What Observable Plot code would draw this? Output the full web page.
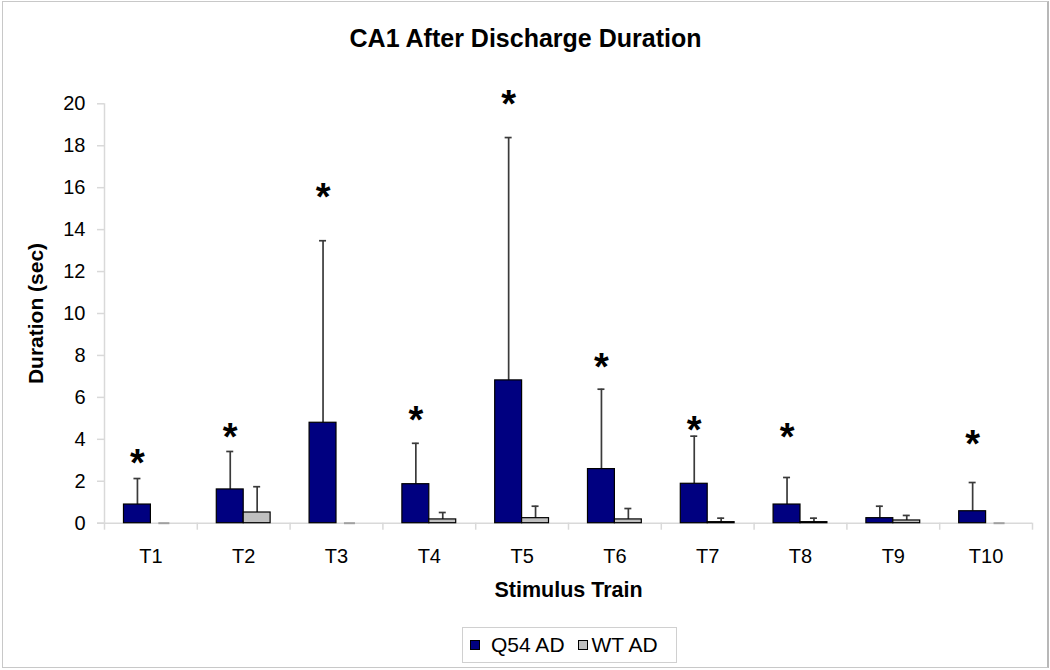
<!DOCTYPE html>
<html>
<head>
<meta charset="utf-8">
<script src="https://cdn.jsdelivr.net/npm/d3@7"></script>
<script src="https://cdn.jsdelivr.net/npm/@observablehq/plot@0.6"></script>
<style>
  body { margin: 0; background: #fff; font-family: "Liberation Sans", Arial, sans-serif; }
  #wrap { position: relative; width: 1050px; height: 670px; overflow: hidden; background: #fff; }
  #frame { position: absolute; left: 2px; top: 1px; width: 1044px; height: 665px; border: 1px solid #c8c8c8; border-right: 2px solid #b8b8b8; box-sizing: content-box; }
  #title { position: absolute; left: 0; top: 26px; width: 1051px; text-align: center; font-weight: bold; font-size: 25px; line-height: 25px; color: #000; }
  #chart { position: absolute; left: 0; top: 0; }
  #legend { position: absolute; left: 462px; top: 627px; width: 213px; height: 34px; border: 1px solid #d0d0d0; display: flex; align-items: center; font-size: 21px; color: #000; }
  #legend .sw { display: inline-block; width: 8px; height: 8px; border: 1px solid #000; }
</style>
</head>
<body>
<div id="wrap">
  <div id="frame"></div>
  <div id="chart"></div>
  <div id="title">CA1 After Discharge Duration</div>
  <div id="legend"></div>
</div>
<script>
// ---- data ----
const categories = ["T1", "T2", "T3", "T4", "T5", "T6", "T7", "T8", "T9", "T10"];
const seriesNames = ["Q54 AD", "WT AD"];
const seriesColors = ["#000080", "#c0c0c0"];
const q54Mean = [0.89, 1.61, 4.79, 1.86, 6.81, 2.58, 1.88, 0.89, 0.24, 0.57];
const q54Err  = [1.24, 1.81, 8.68, 1.95, 11.58, 3.81, 2.27, 1.29, 0.57, 1.37];
const wtMean  = [0, 0.51, 0, 0.18, 0.24, 0.18, 0.05, 0.05, 0.13, 0];
const wtErr   = [0, 1.23, 0, 0.33, 0.57, 0.52, 0.19, 0.19, 0.24, 0];
const starY   = [3.07, 4.34, 15.78, 5.14, 20.19, 7.68, 4.69, 4.34, null, 4.02];
const starText = "*";
const yTicks = [0, 2, 4, 6, 8, 10, 12, 14, 16, 18, 20];
const yLabel = "Duration (sec)";
const xLabel = "Stimulus Train";

// ---- tables built from the arrays ----
const rows = [];
categories.forEach((c, i) => {
  rows.push({cat: c, series: seriesNames[0], mean: q54Mean[i], hi: q54Mean[i] + q54Err[i]});
  rows.push({cat: c, series: seriesNames[1], mean: wtMean[i], hi: wtMean[i] + wtErr[i]});
});
const q54Rows = rows.filter(d => d.series === seriesNames[0]);
const wtRows = rows.filter(d => d.series === seriesNames[1]);
const stars = categories.map((c, i) => ({cat: c, y: starY[i]})).filter(d => d.y != null);

// ---- layout / style constants ----
const W = 1050, H = 620;
const mL = 104, mR = 18, mT = 103.3, mB = 97.3;
const step = (W - mL - mR) / categories.length;
const pInner = 0.42, pOuter = 0.21;
const bw = step * (1 - pInner);       // group bandwidth
const half = bw / 2;                   // single bar width
const off = bw / 4;                    // bar center offset from group center
const capW = 7;
const axisGray = "#d9d9d9";
const errColor = "#3a3a3a";

const chart = Plot.plot({
  width: W, height: H,
  marginLeft: mL, marginRight: mR, marginTop: mT, marginBottom: mB,
  style: {fontFamily: '"Liberation Sans", Arial, sans-serif', fontSize: "20px", color: "#000", background: "transparent", overflow: "visible"},
  x: {domain: categories, paddingInner: pInner, paddingOuter: pOuter, align: 0.5, round: false},
  y: {domain: [0, 20]},
  marks: [
    // axis lines
    Plot.ruleY([0], {stroke: axisGray, strokeWidth: 1.5, insetLeft: -7}),
    Plot.ruleX([categories[0]], {y1: 0, y2: 20, dx: -step / 2, stroke: axisGray, strokeWidth: 1.5}),
    // category boundary ticks
    Plot.ruleX(categories, {x: d => d, y1: 0, y2: 0, insetBottom: -7, dx: -step / 2, stroke: axisGray, strokeWidth: 1.5}),
    Plot.ruleX([categories[categories.length - 1]], {x: d => d, y1: 0, y2: 0, insetBottom: -7, dx: step / 2, stroke: axisGray, strokeWidth: 1.5}),
    Plot.axisY({ticks: yTicks, tickSize: 7, tickPadding: 12, stroke: axisGray, fill: "#000", fontSize: 20, label: null, strokeWidth: 1.5}),
    Plot.axisX({tickSize: 0, tickPadding: 26, fill: "#000", fontSize: 20, label: null}),
    // error bars
    Plot.ruleX(q54Rows, {x: "cat", y1: "mean", y2: "hi", dx: -off, stroke: errColor, strokeWidth: 1.7}),
    Plot.tickY(q54Rows, {x: "cat", y: "hi", dx: -off, insetLeft: (bw - capW) / 2, insetRight: (bw - capW) / 2, stroke: errColor, strokeWidth: 1.7}),
    Plot.ruleX(wtRows.filter(d => d.hi > d.mean), {x: "cat", y1: "mean", y2: "hi", dx: off, stroke: errColor, strokeWidth: 1.7}),
    Plot.tickY(wtRows.filter(d => d.hi > d.mean), {x: "cat", y: "hi", dx: off, insetLeft: (bw - capW) / 2, insetRight: (bw - capW) / 2, stroke: errColor, strokeWidth: 1.7}),
    // zero-valued WT bars appear as a short gray dash
    Plot.tickY(wtRows.filter(d => d.mean === 0), {x: "cat", y: "mean", dx: off, insetLeft: (bw - 11) / 2, insetRight: (bw - 11) / 2, stroke: "#a0a0a0", strokeWidth: 2}),
    // bars
    Plot.barY(q54Rows, {x: "cat", y: "mean", insetRight: half, fill: seriesColors[0], stroke: "#000", strokeWidth: 1.2}),
    Plot.barY(wtRows.filter(d => d.mean > 0), {x: "cat", y: "mean", insetLeft: half, fill: seriesColors[1], stroke: "#000", strokeWidth: 1.2}),
    // significance asterisks
    Plot.text(stars, {x: "cat", y: "y", text: () => starText, dx: -off, dy: 5.5, fontSize: 38, fontWeight: "bold", fill: "#000", lineAnchor: "middle"}),
    // axis titles
    Plot.text([yLabel], {frameAnchor: "left", dx: -68, rotate: -90, fontWeight: "bold", fontSize: 21, fill: "#000", textAnchor: "middle"}),
    Plot.text([xLabel], {frameAnchor: "bottom", dy: 67, fontWeight: "bold", fontSize: 21.5, fill: "#000", textAnchor: "middle", lineAnchor: "middle"})
  ]
});
document.getElementById("chart").appendChild(chart);

// legend
const legend = document.getElementById("legend");
const gaps = [[7, 11], [13, 4]];
seriesNames.forEach((name, i) => {
  const sw = document.createElement("span");
  sw.className = "sw";
  sw.style.background = seriesColors[i];
  sw.style.marginLeft = gaps[i][0] + "px";
  const t = document.createElement("span");
  t.textContent = name;
  t.style.marginLeft = gaps[i][1] + "px";
  legend.appendChild(sw);
  legend.appendChild(t);
});
</script>
</body>
</html>
